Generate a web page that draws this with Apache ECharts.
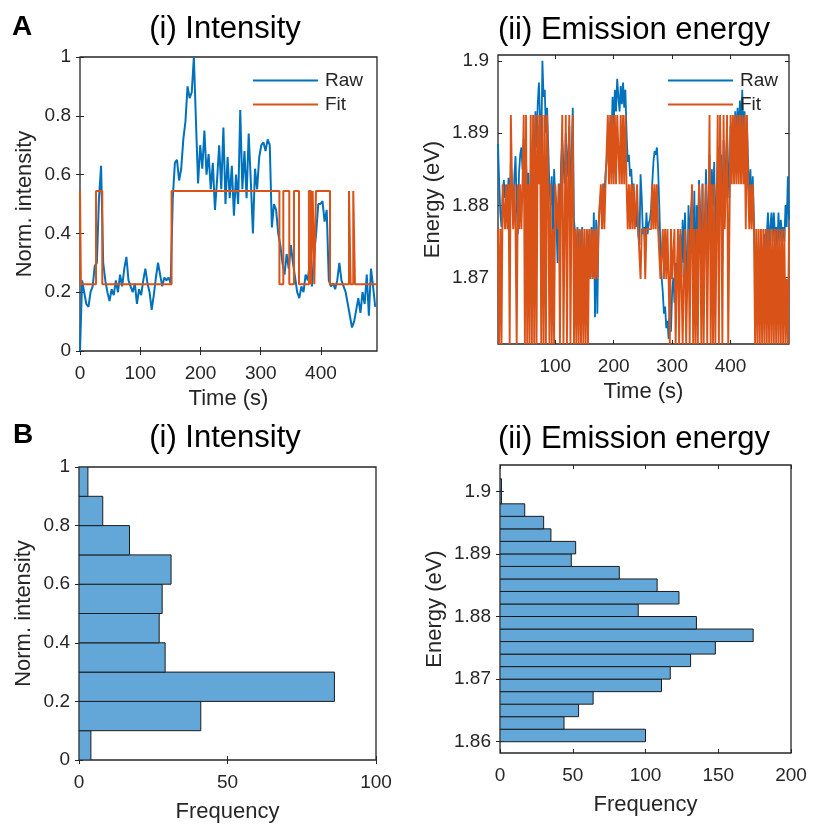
<!DOCTYPE html>
<html>
<head>
<meta charset="utf-8">
<script src="https://cdn.jsdelivr.net/npm/echarts@6/dist/echarts.min.js"></script>
<style>
  html, body { margin: 0; padding: 0; background: #ffffff; }
  #chart { width: 813px; height: 825px; }
</style>
</head>
<body>
<div id="chart"></div>
<script>
// ---------------- data ----------------
// (A i) normalised intensity trace, one sample every intensityStep seconds
const intensityStep = 3.5;
const intensityRaw = [
  0.00, 0.24, 0.20, 0.16, 0.15, 0.20,
  0.22, 0.29, 0.30, 0.52, 0.63, 0.30, 0.24,
  0.20, 0.17, 0.21, 0.19, 0.24, 0.20, 0.26, 0.22,
  0.28, 0.32, 0.24, 0.22, 0.20,
  0.23, 0.16, 0.21, 0.19, 0.24, 0.28, 0.23, 0.20, 0.14, 0.19,
  0.25, 0.30, 0.26, 0.22, 0.25, 0.24, 0.25, 0.23,
  0.52, 0.64, 0.65, 0.58, 0.62, 0.72,
  0.78, 0.90, 0.86, 0.88, 1.00, 0.78, 0.57,
  0.70, 0.62, 0.75, 0.60, 0.67, 0.55, 0.64, 0.48, 0.58,
  0.70, 0.55, 0.76, 0.50, 0.66, 0.52, 0.63, 0.46, 0.60, 0.50,
  0.82, 0.55, 0.68, 0.52, 0.74,
  0.58, 0.40, 0.62, 0.55, 0.66,
  0.70, 0.71, 0.68, 0.72, 0.70,
  0.42, 0.50, 0.48, 0.40, 0.36,
  0.30, 0.26, 0.33, 0.28, 0.36, 0.30,
  0.25, 0.20, 0.18, 0.22, 0.20, 0.26, 0.24,
  0.30, 0.22, 0.33, 0.40, 0.50,
  0.50, 0.51, 0.44, 0.48,
  0.24, 0.22, 0.23, 0.21, 0.24, 0.30, 0.24,
  0.22, 0.20, 0.16, 0.12, 0.08, 0.10,
  0.14, 0.18, 0.13, 0.20, 0.16, 0.26, 0.12, 0.28, 0.22, 0.15
];
// two-state fit: switching times (s) and the level held from each time on
const intensityFitTimes  = [0, 1.5, 26.6, 37, 152, 331, 337.5, 347.4, 355.2, 363.5, 380, 383.4, 386.2, 388.9, 391.7, 415, 446.5, 449.2, 453.6, 456.4, 493];
const intensityFitValues = [0.544, 0.227, 0.544, 0.227, 0.544, 0.227, 0.544, 0.227, 0.544, 0.227, 0.544, 0.227, 0.544, 0.227, 0.544, 0.227, 0.544, 0.227, 0.544, 0.227, 0.227];

// (A ii) emission energy trace, one sample every energyStep seconds, first at 2 s
const energyStep = 2;
const energyRaw = [
  1.8885, 1.8832, 1.8790, 1.8770, 1.8812,  1.8835, 1.8810, 1.8828, 1.8800, 1.8838,
  1.8790, 1.8860, 1.8830, 1.8772, 1.8840,  1.8868, 1.8800, 1.8760, 1.8845, 1.8870,
  1.8880, 1.8850, 1.8892, 1.8790, 1.8860,  1.8815, 1.8845, 1.8775, 1.8820, 1.8870,
  1.8905, 1.8850, 1.8930, 1.8880, 1.8940,  1.8970, 1.8920, 1.8870, 1.9000, 1.8950,
  1.8960, 1.8900, 1.8935, 1.8880, 1.8825,  1.8800, 1.8840, 1.8760, 1.8850, 1.8810,
  1.8775, 1.8720, 1.8830, 1.8780, 1.8860,  1.8890, 1.8855, 1.8830, 1.8900, 1.8870,
  1.8840, 1.8910, 1.8800, 1.8870, 1.8935,  1.8780, 1.8760, 1.8720, 1.8770, 1.8740,
  1.8765, 1.8700, 1.8770, 1.8730, 1.8710,  1.8690, 1.8765, 1.8720, 1.8760, 1.8700,
  1.8770, 1.8700, 1.8790, 1.8645, 1.8780,  1.8650, 1.8770, 1.8800, 1.8815, 1.8790,
  1.8830, 1.8810, 1.8845, 1.8860, 1.8900,  1.8870, 1.8915, 1.8880, 1.8950, 1.8910,
  1.8960, 1.8930, 1.8975, 1.8950, 1.8930,  1.8965, 1.8940, 1.8970, 1.8935, 1.8960,
  1.8900, 1.8860, 1.8870, 1.8840, 1.8850,  1.8820, 1.8830, 1.8790, 1.8770, 1.8800,
  1.8760, 1.8745, 1.8843, 1.8810, 1.8760,  1.8770, 1.8745, 1.8790, 1.8760, 1.8775,
  1.8780, 1.8795, 1.8830, 1.8860, 1.8875,  1.8870, 1.8880, 1.8850, 1.8800, 1.8740,
  1.8700, 1.8680, 1.8650, 1.8660, 1.8630,  1.8640, 1.8615, 1.8660, 1.8625, 1.8680,
  1.8700, 1.8665, 1.8720, 1.8690, 1.8740,  1.8710, 1.8760, 1.8700, 1.8780, 1.8720,
  1.8790, 1.8730, 1.8680, 1.8800, 1.8740,  1.8790, 1.8810, 1.8720, 1.8820, 1.8660,
  1.8800, 1.8740, 1.8835, 1.8790, 1.8720,  1.8830, 1.8680, 1.8780, 1.8850, 1.8740,
  1.8800, 1.8870, 1.8740, 1.8850, 1.8800,  1.8860, 1.8700, 1.8820, 1.8860, 1.8880,
  1.8820, 1.8870, 1.8720, 1.8890, 1.8810,  1.8860, 1.8900, 1.8850, 1.8810, 1.8910,
  1.8880, 1.8920, 1.8870, 1.8930, 1.8890,  1.8935, 1.8890, 1.8945, 1.8900, 1.8960,
  1.8890, 1.8930, 1.8830, 1.8910, 1.8860,  1.8800, 1.8850, 1.8790, 1.8840, 1.8780,
  1.8720, 1.8690, 1.8700, 1.8680, 1.8720,  1.8700, 1.8740, 1.8720, 1.8760, 1.8730,
  1.8760, 1.8790, 1.8740, 1.8770, 1.8790,  1.8750, 1.8790, 1.8760, 1.8770, 1.8740,
  1.8790, 1.8750, 1.8780, 1.8760, 1.8770,  1.8750, 1.8800, 1.8770, 1.8840, 1.8780
];
// discrete energy states of the fit and the state index of every sample
const energyLevels = [1.8608, 1.8698, 1.8767, 1.8829, 1.8925];
const energyFitState = [
  2,0,2,0,3,3,2,3,2,3,  0,4,3,2,3,2,0,3,2,3,  2,3,4,0,4,0,3,0,4,0,  4,0,4,0,4,3,4,0,4,0,
  4,0,4,3,0,3,0,2,0,3,  3,2,3,0,3,4,0,2,4,0,  3,4,0,3,4,0,2,0,2,0,  2,0,2,0,2,0,2,0,2,1,
  2,1,2,1,2,1,2,2,3,2,  3,2,3,3,4,3,4,3,4,3,  4,3,4,4,3,4,3,4,3,4,  3,2,3,2,3,2,3,2,2,3,
  2,2,1,2,2,2,1,2,2,2,  2,2,3,2,3,2,3,2,2,1,  1,2,1,2,1,2,1,0,2,1,  1,2,0,1,2,0,2,1,0,1,
  2,0,1,2,0,2,3,0,2,0,  2,0,3,2,0,3,0,2,3,0,  2,4,0,3,0,3,0,2,4,0,  4,3,0,4,2,3,4,0,2,4,
  3,4,3,4,3,4,3,4,3,4,  3,4,2,4,3,2,3,2,3,2,  0,2,0,2,0,2,0,2,0,2,  0,2,0,2,0,2,0,2,0,2,
  0,2,0,2,0,2,0,1,0,2
];

// (B i) histogram of normalised intensity
const intensityBinEdges = [0, 0.1, 0.2, 0.3, 0.4, 0.5, 0.6, 0.7, 0.8, 0.9, 1.0];
const intensityCounts   = [4, 41, 86, 29, 27, 28, 31, 17, 8, 3];

// (B ii) histogram of emission energy
const energyBinEdges = [1.860, 1.862, 1.864, 1.866, 1.868, 1.870, 1.872, 1.874, 1.876, 1.878, 1.880,
                        1.882, 1.884, 1.886, 1.888, 1.890, 1.892, 1.894, 1.896, 1.898, 1.900, 1.902];
const energyCounts   = [100, 44, 54, 64, 111, 117, 131, 148, 174, 135, 95,
                        123, 108, 82, 49, 52, 35, 30, 17, 1, 1];

// tick positions
const timeTicksA      = [0, 100, 200, 300, 400];
const timeTicksB      = [100, 200, 300, 400];
const intensityTicks  = [0, 0.2, 0.4, 0.6, 0.8, 1];
const energyTicksA    = [1.87, 1.88, 1.89, 1.9];
const energyTicksB    = [1.86, 1.87, 1.88, 1.89, 1.9];
const freqTicksI      = [0, 50, 100];
const freqTicksII     = [0, 50, 100, 150, 200];

// ---------------- styling ----------------
const FONT = '"Liberation Sans", Arial, Helvetica, sans-serif';
const INK = '#262626';
const BLUE = '#0072BD';
const ORANGE = '#D95319';
const BAR = '#62A7D8';

const fmt = v => String(+(+v).toFixed(4));

// one bottom/left axis with labels plus a mirrored top/right axis carrying only ticks
function axisPair(kind, grid, cfg) {
  const main = {
    type: 'value', gridIndex: grid,
    position: kind === 'x' ? 'bottom' : 'left',
    min: cfg.min, max: cfg.max,
    axisLine: { show: false },
    splitLine: { show: false },
    axisTick: { show: true, inside: true, length: 4, customValues: cfg.ticks,
                lineStyle: { color: INK, width: 1 } },
    axisLabel: { show: true, customValues: cfg.ticks, formatter: fmt, color: INK,
                 fontSize: 19, fontFamily: FONT, margin: cfg.margin || 9 },
    name: cfg.name, nameLocation: 'middle', nameGap: cfg.nameGap,
    nameTextStyle: { fontSize: 22, fontFamily: FONT, color: INK }
  };
  const mirror = {
    type: 'value', gridIndex: grid,
    position: kind === 'x' ? 'top' : 'right',
    min: cfg.min, max: cfg.max,
    axisLine: { show: false },
    splitLine: { show: false },
    axisTick: { show: true, inside: true, length: 4, customValues: cfg.ticks,
                lineStyle: { color: INK, width: 1 } },
    axisLabel: { show: false }
  };
  return [main, mirror];
}

const grids = [
  { left: 80,  top: 57,  width: 297, height: 294 },   // A i
  { left: 498, top: 55,  width: 291, height: 289 },   // A ii
  { left: 79,  top: 467, width: 297, height: 293 },   // B i
  { left: 500, top: 465, width: 291, height: 288 }    // B ii
].map(g => Object.assign(g, { show: true, borderColor: INK, borderWidth: 1.3, backgroundColor: '#fff' }));

const xAxes = [].concat(
  axisPair('x', 0, { min: 0, max: 493, ticks: timeTicksA, name: 'Time (s)', nameGap: 37, margin: 13 }),
  axisPair('x', 1, { min: 2, max: 500, ticks: timeTicksB, name: 'Time (s)', nameGap: 37, margin: 13 }),
  axisPair('x', 2, { min: 0, max: 100, ticks: freqTicksI, name: 'Frequency', nameGap: 41, margin: 13 }),
  axisPair('x', 3, { min: 0, max: 200, ticks: freqTicksII, name: 'Frequency', nameGap: 41, margin: 13 })
);
const yAxes = [].concat(
  axisPair('y', 0, { min: 0, max: 1, ticks: intensityTicks, name: 'Norm. intensity', nameGap: 44 }),
  axisPair('y', 1, { min: 1.8608, max: 1.9008, ticks: energyTicksA, name: 'Energy (eV)', nameGap: 54 }),
  axisPair('y', 2, { min: 0, max: 1, ticks: intensityTicks, name: 'Norm. intensity', nameGap: 44 }),
  axisPair('y', 3, { min: 1.8582, max: 1.9042, ticks: energyTicksB, name: 'Energy (eV)', nameGap: 54 })
);

function histSeries(g, edges, counts) {
  return {
    type: 'custom', xAxisIndex: 2 * g, yAxisIndex: 2 * g,
    data: counts.map((c, i) => [edges[i], edges[i + 1], c]),
    encode: { x: 2, y: [0, 1] },
    clip: true,
    renderItem(params, api) {
      const lo = api.coord([0, api.value(0)]);
      const hi = api.coord([api.value(2), api.value(1)]);
      return {
        type: 'rect',
        shape: { x: lo[0], y: hi[1], width: hi[0] - lo[0], height: lo[1] - hi[1] },
        style: { fill: BAR, stroke: '#1c1c1c', lineWidth: 1 }
      };
    }
  };
}

const lineBase = { type: 'line', showSymbol: false, symbol: 'none', clip: true };

const series = [
  Object.assign({}, lineBase, {
    name: 'Raw', xAxisIndex: 0, yAxisIndex: 0,
    data: intensityRaw.map((v, i) => [i * intensityStep, v]),
    lineStyle: { color: BLUE, width: 2 }, itemStyle: { color: BLUE }, z: 2
  }),
  Object.assign({}, lineBase, {
    name: 'Fit', xAxisIndex: 0, yAxisIndex: 0, step: 'end',
    data: intensityFitTimes.map((t, i) => [t, intensityFitValues[i]]),
    lineStyle: { color: ORANGE, width: 2 }, itemStyle: { color: ORANGE }, z: 3
  }),
  Object.assign({}, lineBase, {
    name: 'Raw', xAxisIndex: 2, yAxisIndex: 2,
    data: energyRaw.map((v, i) => [(i + 1) * energyStep, v]),
    lineStyle: { color: BLUE, width: 1.8 }, itemStyle: { color: BLUE }, z: 2
  }),
  Object.assign({}, lineBase, {
    name: 'Fit', xAxisIndex: 2, yAxisIndex: 2,
    data: energyFitState.map((s, i) => [(i + 1) * energyStep, energyLevels[s]]),
    lineStyle: { color: ORANGE, width: 1.9 }, itemStyle: { color: ORANGE }, z: 3
  }),
  histSeries(2, intensityBinEdges, intensityCounts),
  histSeries(3, energyBinEdges, energyCounts)
];

const legendBase = {
  data: ['Raw', 'Fit'], orient: 'vertical', icon: 'rect', selectedMode: false,
  itemWidth: 65, itemHeight: 2, itemGap: 5,
  textStyle: { fontSize: 19, fontFamily: FONT, color: INK, padding: [0, 0, 0, 2] }
};

function label(text, x, y, size, weight) {
  return {
    type: 'text', x, y, z: 100,
    style: { text, fill: '#000', font: `${weight || 'normal'} ${size}px ${FONT}`,
             align: 'center', verticalAlign: 'middle' }
  };
}

const chart = echarts.init(document.getElementById('chart'), null, { renderer: 'canvas' });
chart.setOption({
  animation: false,
  backgroundColor: '#ffffff',
  grid: grids,
  xAxis: xAxes,
  yAxis: yAxes,
  legend: [
    Object.assign({}, legendBase, { left: 248, top: 66 }),
    Object.assign({}, legendBase, { left: 663, top: 66 })
  ],
  graphic: [
    label('A', 22, 27, 28, 'bold'),
    label('B', 23, 435, 28, 'bold'),
    label('(i) Intensity', 225, 29, 31),
    label('(ii) Emission energy', 634, 30, 31),
    label('(i) Intensity', 225, 438, 31),
    label('(ii) Emission energy', 634, 439, 31)
  ],
  series
});
</script>
</body>
</html>
